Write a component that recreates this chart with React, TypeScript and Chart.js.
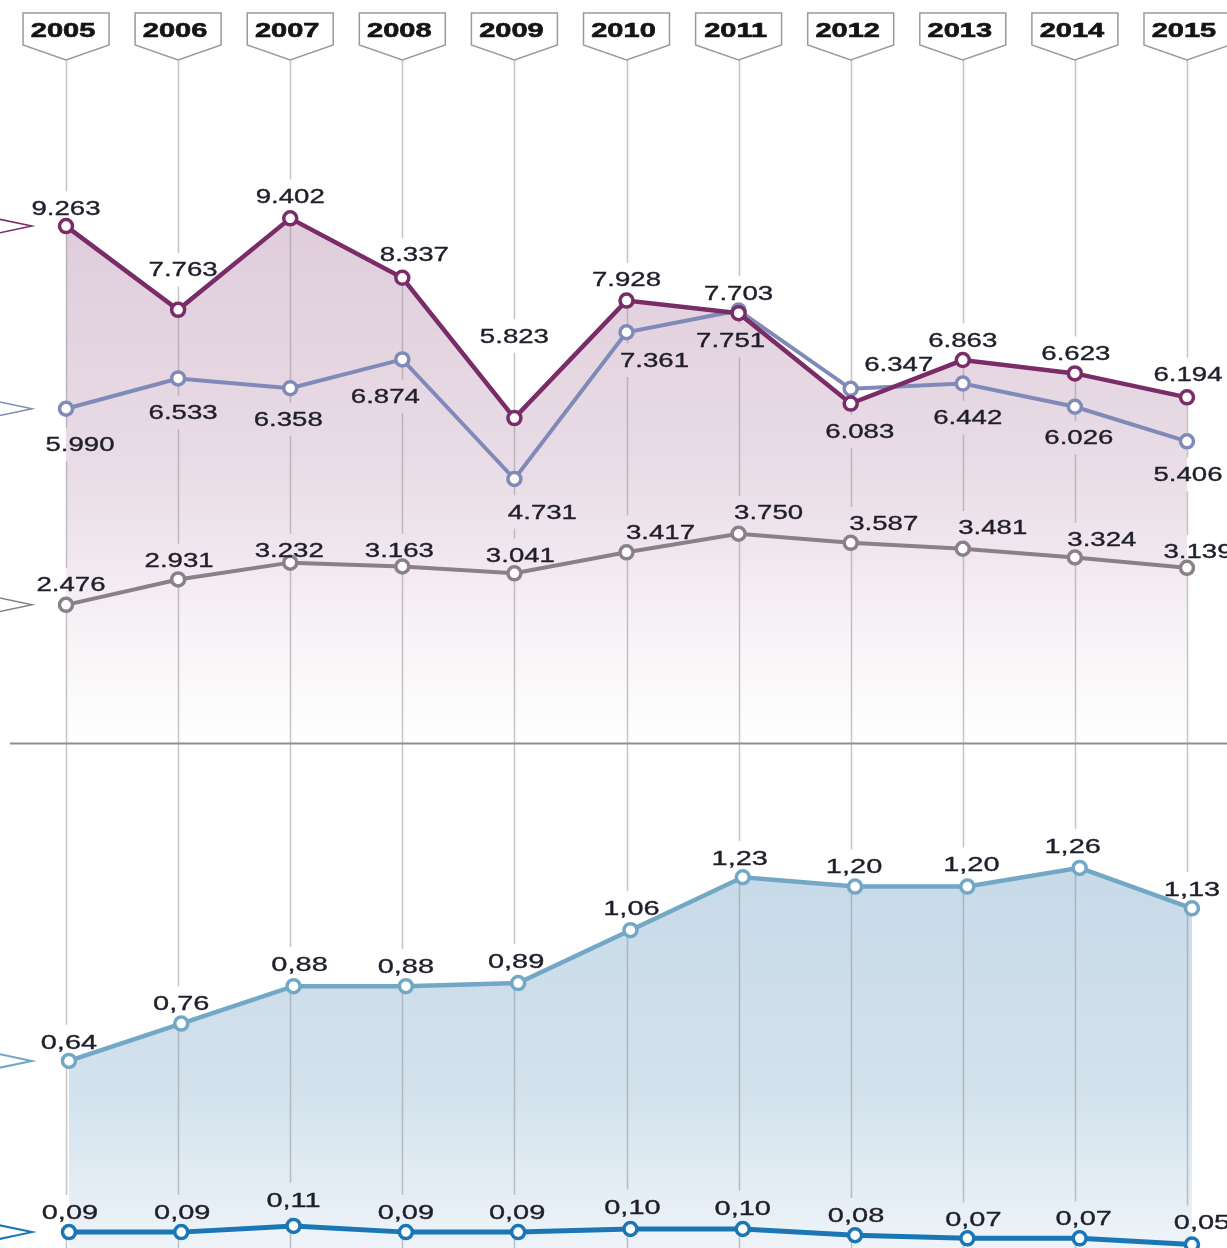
import React, { useEffect, useRef } from "react";
import { Chart, registerables } from "chart.js";

Chart.register(...registerables);

// ---------- data ----------
const years = [2005, 2006, 2007, 2008, 2009, 2010, 2011, 2012, 2013, 2014, 2015];
const purpleValues = [9263, 7763, 9402, 8337, 5823, 7928, 7703, 6083, 6863, 6623, 6194];
const lavenderValues = [5990, 6533, 6358, 6874, 4731, 7361, 7751, 6347, 6442, 6026, 5406];
const grayValues = [2476, 2931, 3232, 3163, 3041, 3417, 3750, 3587, 3481, 3324, 3139];
const lightBlueValues = [0.64, 0.76, 0.88, 0.88, 0.89, 1.06, 1.23, 1.2, 1.2, 1.26, 1.13];
const darkBlueValues = [0.09, 0.09, 0.11, 0.09, 0.09, 0.1, 0.1, 0.08, 0.07, 0.07, 0.05];

// label placement (offset of label centre from its point, px)
const purpleLabelDx = [0, 5, 0, 12, 0, 0, 0, 9, 0, 1, 1];
const purpleLabelDy = [-18, -40, -22, -23, -82, -21, -20, 28, -20, -20, -23];
const lavenderLabelDx = [14, 5, -2, -17, 28, 28, -8, 48, 5, 4, 1];
const lavenderLabelDy = [36, 34, 31, 37, 33, 28, 30, -24, 34, 31, 33];
const grayLabelDx = [5, 1, -1, -3, 6, 34, 30, 33, 30, 27, 11];
const grayLabelDy = [-20, -19, -12, -16, -18, -20, -21, -19, -21, -18, -16];
const lightBlueLabelDx = [0, 0, 6, 0, -2, 1, -3, -1, 4, -7, 0];
const lightBlueLabelDy = [-19, -20, -22, -20, -22, -22, -19, -20, -22, -22, -19];
const darkBlueLabelDx = [1, 1, 0, 0, -1, 2, 0, 1, 6, 4, 10];
const darkBlueLabelDy = [-20, -20, -26, -20, -20, -22, -21, -20, -19, -20, -22];

const PURPLE = "#7a2c68";
const LAVENDER = "#7f8ab8";
const GRAY = "#8a8088";
const LIGHTBLUE = "#72a7c6";
const DARKBLUE = "#1b76b5";

const fmtThousands = (v: number) => {
  const t = Math.floor(v / 1000);
  const r = String(Math.round(v % 1000)).padStart(3, "0");
  return t > 0 ? `${t}.${r}` : String(Math.round(v));
};
const fmtDecimal = (v: number) => v.toFixed(2).replace(".", ",");

type SeriesDef = {
  values: number[];
  color: string;
  fmt: (v: number) => string;
  dx: number[];
  dy: number[];
  panel: "top" | "bottom";
  width: number;
};

const SERIES: SeriesDef[] = [
  { values: purpleValues, color: PURPLE, fmt: fmtThousands, dx: purpleLabelDx, dy: purpleLabelDy, panel: "top", width: 4.5 },
  { values: lavenderValues, color: LAVENDER, fmt: fmtThousands, dx: lavenderLabelDx, dy: lavenderLabelDy, panel: "top", width: 4 },
  { values: grayValues, color: GRAY, fmt: fmtThousands, dx: grayLabelDx, dy: grayLabelDy, panel: "top", width: 4 },
  { values: lightBlueValues, color: LIGHTBLUE, fmt: fmtDecimal, dx: lightBlueLabelDx, dy: lightBlueLabelDy, panel: "bottom", width: 4.5 },
  { values: darkBlueValues, color: DARKBLUE, fmt: fmtDecimal, dx: darkBlueLabelDx, dy: darkBlueLabelDy, panel: "bottom", width: 5 },
];

const LABEL_SCALE_X = 1.38;
const LABEL_FONT_TOP = 20;
const LABEL_FONT_BOTTOM = 21;
const FONT_FAMILY = '"Liberation Sans", Arial, sans-serif';

type LabelBox = { text: string; x: number; y: number; w: number; h: number; size: number };

function computeLabels(chart: any): LabelBox[] {
  const ctx = chart.ctx as CanvasRenderingContext2D;
  const out: LabelBox[] = [];
  SERIES.forEach((s, si) => {
    const meta = chart.getDatasetMeta(si);
    const size = s.panel === "top" ? LABEL_FONT_TOP : LABEL_FONT_BOTTOM;
    ctx.save();
    ctx.font = `${size}px ${FONT_FAMILY}`;
    meta.data.forEach((pt: any, i: number) => {
      const text = s.fmt(s.values[i]);
      const w = ctx.measureText(text).width * LABEL_SCALE_X;
      out.push({ text, x: pt.x + s.dx[i], y: pt.y + s.dy[i], w, h: size * 0.78, size });
    });
    ctx.restore();
  });
  return out;
}

const decorPlugin = {
  id: "decor",
  beforeDatasetsDraw(chart: any) {
    const ctx = chart.ctx as CanvasRenderingContext2D;
    const xs = chart.scales.x;
    const ys = chart.scales.y;
    const labels = computeLabels(chart);
    const bottom = chart.height;
    ctx.save();
    // vertical grid lines with gaps around labels
    ctx.strokeStyle = "rgba(150,150,150,0.55)";
    ctx.lineWidth = 1.5;
    years.forEach((yr) => {
      const x = Math.round(xs.getPixelForValue(yr)) + 0.5;
      const gaps = labels
        .filter((l) => Math.abs(l.x - x) < l.w / 2 + 2)
        .map((l) => [l.y - l.h / 2 - 9, l.y + l.h / 2 + 9])
        .sort((a, b) => a[0] - b[0]);
      let start = 60;
      ctx.beginPath();
      for (const [g0, g1] of gaps) {
        if (g0 > start) {
          ctx.moveTo(x, start);
          ctx.lineTo(x, g0);
        }
        start = Math.max(start, g1);
      }
      if (start < bottom) {
        ctx.moveTo(x, start);
        ctx.lineTo(x, bottom);
      }
      ctx.stroke();
    });
    // separator / baseline of top panel
    const y0 = Math.round(ys.getPixelForValue(0)) + 0.5;
    ctx.strokeStyle = "#8f8f8f";
    ctx.lineWidth = 2;
    ctx.beginPath();
    ctx.moveTo(10, y0);
    ctx.lineTo(chart.width, y0);
    ctx.stroke();
    ctx.restore();
  },
  afterDatasetsDraw(chart: any) {
    const ctx = chart.ctx as CanvasRenderingContext2D;
    const xs = chart.scales.x;
    // year boxes
    ctx.save();
    years.forEach((yr) => {
      const cx = xs.getPixelForValue(yr);
      ctx.beginPath();
      ctx.moveTo(cx - 43, 13);
      ctx.lineTo(cx + 43, 13);
      ctx.lineTo(cx + 43, 45);
      ctx.lineTo(cx, 60);
      ctx.lineTo(cx - 43, 45);
      ctx.closePath();
      ctx.fillStyle = "#ffffff";
      ctx.fill();
      ctx.strokeStyle = "#9a9a9a";
      ctx.lineWidth = 1.5;
      ctx.stroke();
      ctx.save();
      ctx.translate(cx - 3, 31);
      ctx.scale(1.45, 1);
      ctx.font = `bold 20px ${FONT_FAMILY}`;
      ctx.fillStyle = "#141414";
      ctx.strokeStyle = "#141414";
      ctx.lineWidth = 0.6;
      ctx.textAlign = "center";
      ctx.textBaseline = "middle";
      ctx.fillText(String(yr), 0, 0);
      ctx.strokeText(String(yr), 0, 0);
      ctx.restore();
    });
    // left-edge pointer triangles
    SERIES.forEach((s, si) => {
      const meta = chart.getDatasetMeta(si);
      const y = meta.data[0].y;
      ctx.beginPath();
      ctx.moveTo(-6, y - 8);
      ctx.lineTo(32, y);
      ctx.lineTo(-6, y + 8);
      ctx.strokeStyle = s.color;
      ctx.lineWidth = si >= 3 ? 2 : 1.5;
      ctx.stroke();
    });
    // value labels
    const labels = computeLabels(chart);
    labels.forEach((l) => {
      ctx.save();
      ctx.translate(l.x, l.y);
      ctx.scale(LABEL_SCALE_X, 1);
      ctx.font = `${l.size}px ${FONT_FAMILY}`;
      ctx.fillStyle = "#1f1f2b";
      ctx.strokeStyle = "#1f1f2b";
      ctx.lineWidth = 0.35;
      ctx.textAlign = "center";
      ctx.textBaseline = "middle";
      ctx.fillText(l.text, 0, 1);
      ctx.strokeText(l.text, 0, 1);
      ctx.restore();
    });
    ctx.restore();
  },
};

const purpleFill = (c: any) => {
  const chart = c.chart;
  if (!chart.chartArea) return "rgba(122,44,104,0.15)";
  const ys = chart.scales.y;
  const g = chart.ctx.createLinearGradient(0, ys.getPixelForValue(Math.max(...purpleValues)), 0, ys.getPixelForValue(0));
  g.addColorStop(0, "rgba(122,44,104,0.24)");
  g.addColorStop(0.5, "rgba(122,44,104,0.16)");
  g.addColorStop(0.75, "rgba(122,44,104,0.07)");
  g.addColorStop(1, "rgba(122,44,104,0.0)");
  return g;
};

const blueFill = (c: any) => {
  const chart = c.chart;
  if (!chart.chartArea) return "#d3e2ec";
  const ys = chart.scales.y2;
  const g = chart.ctx.createLinearGradient(0, ys.getPixelForValue(Math.max(...lightBlueValues)), 0, chart.chartArea.bottom);
  g.addColorStop(0, "#c7dae8");
  g.addColorStop(0.6, "#d3e2ed");
  g.addColorStop(1, "#eef4f9");
  return g;
};

export default function App() {
  const ref = useRef<HTMLCanvasElement | null>(null);

  useEffect(() => {
    if (!ref.current) return;
    const mk = (s: SeriesDef, i: number) => {
      const top = s.panel === "top";
      return {
        label: String(i),
        data: years.map((x, k) => ({ x, y: s.values[k] })),
        xAxisID: top ? "x" : "x2",
        yAxisID: top ? "y" : "y2",
        borderColor: s.color,
        borderWidth: s.width,
        pointRadius: 6.5,
        pointHoverRadius: 6.5,
        pointBorderWidth: 3.5,
        pointBorderColor: s.color,
        pointBackgroundColor: "#ffffff",
        tension: 0,
        clip: false as any,
        fill: i === 0 ? "origin" : i === 3 ? "start" : false,
        backgroundColor: i === 0 ? purpleFill : i === 3 ? blueFill : "transparent",
      };
    };
    const chart = new Chart(ref.current, {
      type: "line",
      data: { datasets: SERIES.map(mk) as any },
      options: {
        responsive: false,
        animation: false,
        devicePixelRatio: 1,
        layout: { padding: 0, autoPadding: false } as any,
        scales: {
          x: { type: "linear", min: 2004.411, max: 2015.357, display: false },
          x2: { type: "linear", min: 2004.386, max: 2015.312, display: false },
          y: { type: "linear", min: -9050, max: 13315, display: false },
          y2: { type: "linear", min: 0.039, max: 4.048, display: false },
        },
        plugins: {
          legend: { display: false },
          tooltip: { enabled: false },
          filler: { drawTime: "beforeDatasetsDraw" } as any,
        },
        events: [],
      },
      plugins: [decorPlugin],
    });
    return () => chart.destroy();
  }, []);

  return (
    <div style={{ position: "absolute", left: 0, top: 0, width: 1227, height: 1248, background: "#fff" }}>
      <canvas ref={ref} width={1227} height={1248} style={{ display: "block" }} />
    </div>
  );
}
